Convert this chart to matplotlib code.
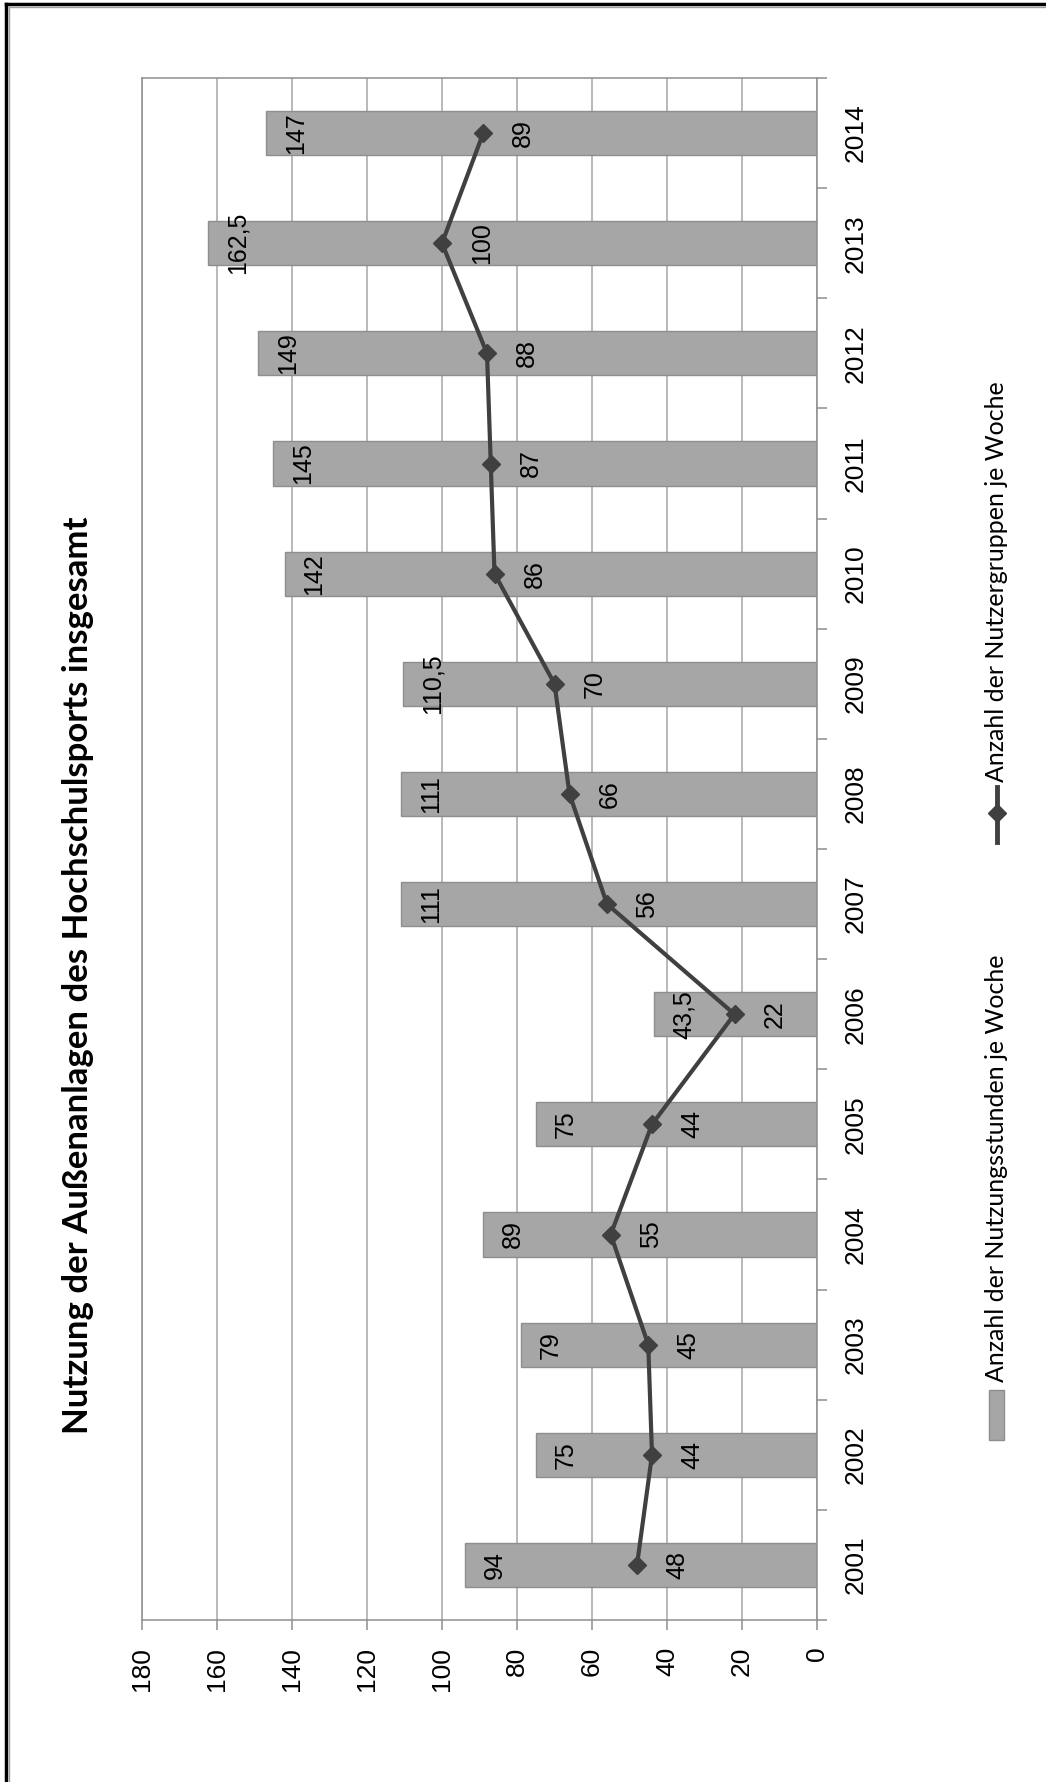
import matplotlib
matplotlib.use('Agg')
import matplotlib.pyplot as plt
from matplotlib import font_manager as fm
from matplotlib.lines import Line2D
from matplotlib.patches import Rectangle

# data
years = [str(y) for y in range(2001, 2015)]
hours = [94, 75, 79, 89, 75, 43.5, 111, 111, 110.5, 142, 145, 149, 162.5, 147]
groups = [48, 44, 45, 55, 44, 22, 56, 66, 70, 86, 87, 88, 100, 89]
value_ticks = list(range(0, 181, 20))
title = "Nutzung der Außenanlagen des Hochschulsports insgesamt"
legend_labels = ["Anzahl der Nutzungsstunden je Woche",
                 "Anzahl der Nutzergruppen je Woche"]

W, H = 1046, 1782


def fx(px):
    return px / W


def fy(py):
    return 1 - py / H


def fmt(v):
    return f"{v:g}".replace('.', ',')


installed = {f.name for f in fm.fontManager.ttflist}
num_font = 'Liberation Sans Narrow' if 'Liberation Sans Narrow' in installed else 'Liberation Sans'
text_font = 'Lato' if 'Lato' in installed else 'DejaVu Sans'

bar_col = '#A6A6A6'
bar_edge = '#8E8E8E'
line_col = '#404040'
axis_col = '#8E8E8E'

fig = plt.figure(figsize=(W / 100, H / 100), dpi=100)
ax = fig.add_axes([fx(142), fy(1620), fx(817) - fx(142), (1620 - 78) / H])

pos = list(range(len(years)))
ax.barh(pos, hours, height=0.40, color=bar_col, edgecolor=bar_edge, linewidth=1, zorder=2)
ax.plot(groups, pos, color=line_col, lw=3, marker='D', ms=9, zorder=3)

ax.set_xlim(180, 0)
ax.set_ylim(-0.5, len(years) - 0.5)

ax.set_xticks(value_ticks)
ax.set_xticklabels([str(v) for v in value_ticks], rotation=90, fontfamily=num_font, fontsize=19)
ax.grid(axis='x', color='#A6A6A6', lw=1.1, zorder=0)
ax.set_axisbelow(True)
ax.tick_params(axis='x', direction='out', length=7.2, width=1.1, color=axis_col, pad=12)

ax.yaxis.tick_right()
ax.set_yticks(pos)
ax.set_yticklabels(years, rotation=90, va='center', fontfamily=num_font, fontsize=19)
ax.set_yticks([p - 0.5 for p in range(len(years) + 1)], minor=True)
ax.tick_params(axis='y', which='major', length=0, pad=19.4)
ax.tick_params(axis='y', which='minor', direction='out', length=7.2, width=1.1, color=axis_col)

for s in ax.spines.values():
    s.set_color(axis_col)
    s.set_linewidth(1.1)

# data labels
for p, v in zip(pos, hours):
    ax.annotate(fmt(v), (v, p), xytext=(21.6, 0), textcoords='offset points',
                rotation=90, ha='center', va='center', fontfamily=num_font, fontsize=18, zorder=4)
for p, v in zip(pos, groups):
    ax.annotate(fmt(v), (v, p), xytext=(28.8, 0), textcoords='offset points',
                rotation=90, ha='center', va='center', fontfamily=num_font, fontsize=18, zorder=4)

# title
fig.text(fx(78), fy(975), title, rotation=90, ha='center', va='center',
         family=text_font, weight='bold', fontsize=25)

# legend, drawn by hand because it is rotated
fig.add_artist(Rectangle((fx(989), fy(1440)), fx(15), 50 / H, transform=fig.transFigure,
                         facecolor=bar_col, edgecolor=bar_edge, lw=1))
fig.text(fx(997), fy(1382), legend_labels[0], rotation=90, ha='center', va='bottom',
         family=text_font, fontsize=18)
fig.add_artist(Line2D([fx(997), fx(997)], [fy(842), fy(787)], color=line_col, lw=3.5,
                      transform=fig.transFigure))
fig.add_artist(Line2D([fx(997)], [fy(813)], color=line_col, marker='D', ms=9,
                      transform=fig.transFigure))
fig.text(fx(997), fy(782), legend_labels[1], rotation=90, ha='center', va='bottom',
         family=text_font, fontsize=18)

# chart frame (only top and left edges are inside the picture)
fig.add_artist(Line2D([fx(6), fx(6)], [0, fy(4)], color='black', lw=2.5, transform=fig.transFigure))
fig.add_artist(Line2D([fx(6), 1], [fy(4), fy(4)], color='black', lw=2.5, transform=fig.transFigure))
fig.add_artist(Line2D([fx(9), fx(9)], [0, fy(7)], color='#A0A0A0', lw=1, transform=fig.transFigure))
fig.add_artist(Line2D([fx(9), 1], [fy(7), fy(7)], color='#A0A0A0', lw=1, transform=fig.transFigure))

fig.savefig('out.png', dpi=100)
